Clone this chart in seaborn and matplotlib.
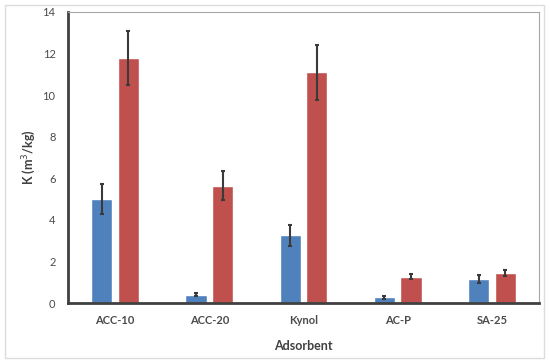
import matplotlib
matplotlib.use("Agg")
import matplotlib.pyplot as plt
from matplotlib.patches import Rectangle
from matplotlib.ticker import FixedLocator
import numpy as np
import pandas as pd
import seaborn as sns

adsorbents = ["ACC-10", "ACC-20", "Kynol", "AC-P", "SA-25"]
series = ["A", "B"]
k_blue = [5.0, 0.4, 3.25, 0.27, 1.15]
err_blue = [0.72, 0.07, 0.5, 0.06, 0.18]
k_red = [11.8, 5.65, 11.1, 1.27, 1.45]
err_red = [1.3, 0.7, 1.32, 0.11, 0.15]

df = pd.DataFrame({
    "Adsorbent": adsorbents * 2,
    "series": [series[0]] * 5 + [series[1]] * 5,
    "K": k_blue + k_red,
})

sns.set_style("white")
plt.rcParams["font.family"] = ["Lato", "DejaVu Sans"]

fig = plt.figure(figsize=(5.5, 3.64), dpi=100)
ax = fig.add_axes([68 / 550, 1 - 303 / 364, (539 - 68) / 550, (303 - 12) / 364])

sns.barplot(data=df, x="Adsorbent", y="K", hue="series", order=adsorbents,
            palette=["#4F81BD", "#C0504D"], width=0.565, gap=0.2,
            errorbar=None, legend=False, ax=ax, saturation=1)

# error bars on top of each seaborn bar (blue bars first, then red)
errs = err_blue + err_red
vals = k_blue + k_red
for p, v, e in zip(ax.patches, vals, errs):
    ax.errorbar(p.get_x() + p.get_width() / 2, v, yerr=e, fmt="none",
                ecolor="#3a3a3a", elinewidth=1.5, capsize=1.5, capthick=1.5)

ax.set_xlim(-0.5, 4.5)
ax.set_ylim(0, 14)
ax.set_yticks(np.arange(0, 15, 2))
ax.xaxis.set_minor_locator(FixedLocator(np.arange(-0.5, 5, 1)))
ax.tick_params(axis="x", which="major", length=0, labelsize=8, colors="#4a4a4a", pad=9)
ax.tick_params(axis="x", which="minor", direction="in", length=3, width=1.2, color="#404040")
ax.tick_params(axis="y", direction="out", length=3, width=1.2, color="#404040",
               labelsize=8, labelcolor="#4a4a4a", pad=6)
for lbl in ax.get_xticklabels():
    lbl.set_fontweight("bold")

ax.set_xlabel("Adsorbent", fontsize=9, fontweight="bold", color="#404040", labelpad=10)
ax.set_ylabel("K (m$^3$/kg)", fontsize=9, fontweight="bold", color="#404040", labelpad=3)

for s in ["left", "bottom"]:
    ax.spines[s].set_color("#404040")
    ax.spines[s].set_linewidth(2)
for s in ["top", "right"]:
    ax.spines[s].set_color("#a6a6a6")
    ax.spines[s].set_linewidth(0.8)

fig.add_artist(Rectangle((5 / 550, 1 - 358 / 364), 539 / 550, 353 / 364,
                         transform=fig.transFigure, fill=False,
                         edgecolor="#dcdcdc", linewidth=1))

fig.savefig("out.png", dpi=100)
